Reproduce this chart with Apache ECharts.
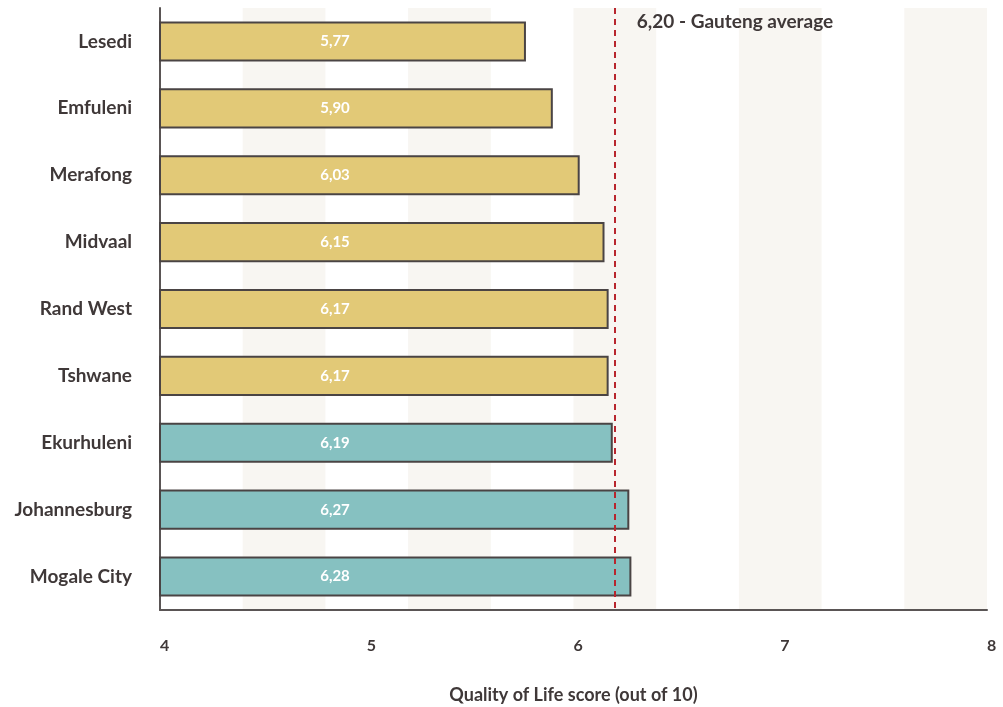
<!DOCTYPE html>
<html>
<head>
<meta charset="utf-8">
<script src="https://cdn.jsdelivr.net/npm/echarts@6/dist/echarts.min.js"></script>
<style>
  html, body { margin: 0; padding: 0; background: #fff; }
  #chart { width: 1003px; height: 707px; }
</style>
</head>
<body>
<div id="chart"></div>
<script>
// data
const municipalities = ['Lesedi', 'Emfuleni', 'Merafong', 'Midvaal', 'Rand West', 'Tshwane', 'Ekurhuleni', 'Johannesburg', 'Mogale City'];
const scores = [5.77, 5.90, 6.03, 6.15, 6.17, 6.17, 6.19, 6.27, 6.28];
const gautengAverage = 6.2;
const xTicks = [4, 5, 6, 7, 8];

const gold = '#e2c977';
const teal = '#86c1c1';
const ink = '#3f3838';
const font = 'Lato';

const fmt = v => v.toFixed(2).replace('.', ',');

const chart = echarts.init(document.getElementById('chart'));

// the last three (metros) are teal
const barData = municipalities.map((name, i) => ({
    value: scores[i],
    itemStyle: { color: i >= 6 ? teal : gold }
}));

chart.setOption({
    animation: false,
    grid: { left: 160, right: 16, top: 8, bottom: 97, outerBoundsMode: 'none', containLabel: false },
    xAxis: [
        {
            type: 'value',
            min: xTicks[0],
            max: xTicks[xTicks.length - 1],
            interval: 0.4,
            axisLine: { show: true, lineStyle: { color: '#5a5555', width: 2 } },
            axisTick: { show: false },
            axisLabel: { show: false },
            splitLine: { show: false },
            splitArea: { show: true, areaStyle: { color: ['rgba(255,255,255,0)', '#f8f6f2'] } },
            name: 'Quality of Life score (out of 10)',
            nameLocation: 'middle',
            nameGap: 76,
            nameTextStyle: { fontFamily: font, fontWeight: 'bold', fontSize: 18, color: ink }
        },
        {
            type: 'value',
            position: 'bottom',
            min: xTicks[0],
            max: xTicks[xTicks.length - 1],
            interval: 1,
            axisLine: { show: false },
            axisTick: { show: false },
            splitLine: { show: false },
            axisLabel: {
                margin: 28,
                align: 'left',
                fontFamily: font, fontWeight: 'bold', fontSize: 16, color: ink,
                formatter: v => String(v)
            }
        }
    ],
    yAxis: {
        type: 'category',
        data: municipalities,
        inverse: true,
        axisLine: { show: true, lineStyle: { color: '#5a5555', width: 2 } },
        axisTick: { show: false },
        axisLabel: { margin: 28, fontFamily: font, fontWeight: 'bold', fontSize: 19, color: ink }
    },
    series: [{
        type: 'bar',
        xAxisIndex: 0,
        data: barData,
        barCategoryGap: '40%',
        itemStyle: { borderColor: '#4a4444', borderWidth: 2 },
        label: {
            show: true,
            position: [176, '50%'],
            align: 'center',
            verticalAlign: 'middle',
            fontFamily: font, fontWeight: 'bold', fontSize: 15, color: '#fff',
            formatter: p => fmt(p.value)
        },
        markLine: {
            silent: true,
            symbol: 'none',
            lineStyle: { color: '#b8262e', type: [6, 5], width: 2 },
            label: {
                show: true,
                position: 'start',
                align: 'left',
                verticalAlign: 'top',
                offset: [22, 9],
                fontFamily: font, fontWeight: 'bold', fontSize: 19, color: ink,
                formatter: fmt(gautengAverage) + ' - Gauteng average'
            },
            data: [{ xAxis: gautengAverage }]
        }
    }]
});
</script>
</body>
</html>
